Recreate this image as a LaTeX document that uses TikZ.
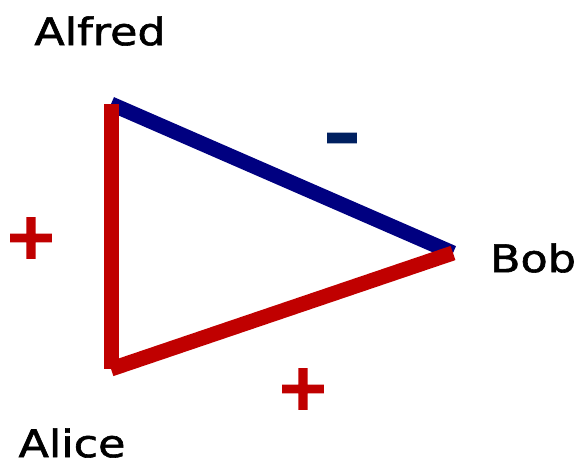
\documentclass[tikz,border=0pt]{standalone}
\usepackage{fontspec}
\setmainfont{DejaVu Sans}
\newfontfamily\namefont[FakeBold=1.5]{DejaVu Sans}
\newfontfamily\signfont[FakeBold=2.5]{DejaVu Sans Bold}
\definecolor{myred}{RGB}{192,0,0}
\definecolor{myblue}{RGB}{0,0,128}
\definecolor{mynavy}{RGB}{0,32,96}
\begin{document}
\begin{tikzpicture}[x=1pt,y=-1pt,
  edgeline/.style={line width=15pt,line cap=butt},
  person/.style={font=\namefont\fontsize{38}{42}\selectfont,inner sep=0pt,xscale=1.17},
  signmark/.style={font=\signfont\fontsize{64}{70}\selectfont,inner sep=0pt}]
\useasboundingbox (0,0) rectangle (576,465);
\coordinate (A) at (111,104);
\coordinate (B) at (453,253);
\coordinate (C) at (111,369);
\draw[edgeline,myblue] (A) -- (B);
\draw[edgeline,myred] (C) -- (B);
\draw[edgeline,myred] (A) -- (C);
\node[person] (alfred) at (100,31) {Alfred};
\node[person] (bob) at (533,258) {Bob};
\node[person] (alice) at (72,443) {Alice};
\node[signmark,text=myred] (p1) at (31,238) {+};
\node[signmark,text=mynavy,xscale=1.4,anchor=center] (m1) at (342,145) {-};
\node[signmark,text=myred] (p2) at (303,389) {+};
\end{tikzpicture}
\end{document}
